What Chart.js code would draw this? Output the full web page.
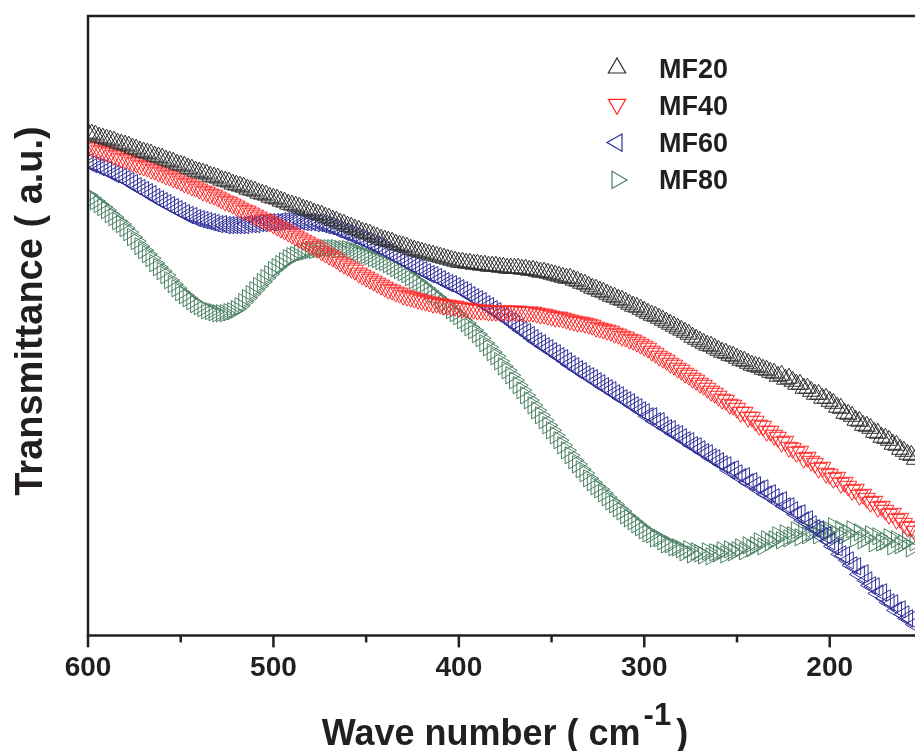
<!DOCTYPE html>
<html>
<head>
<meta charset="utf-8">
<script src="https://cdn.jsdelivr.net/npm/chart.js@4.4.0/dist/chart.umd.min.js"></script>
<style>
  html, body { margin: 0; padding: 0; background: #fff; }
  #chart { display: block; }
</style>
</head>
<body>
<canvas id="chart" width="915" height="751"></canvas>
<script>
// wave number grid (cm-1), read left to right on the reversed axis
const wavenumbers = [
    600, 598, 596, 594, 592, 590, 588, 586, 584, 582,
    580, 578, 576, 574, 572, 570, 568, 566, 564, 562,
    560, 558, 556, 554, 552, 550, 548, 546, 544, 542,
    540, 538, 536, 534, 532, 530, 528, 526, 524, 522,
    520, 518, 516, 514, 512, 510, 508, 506, 504, 502,
    500, 498, 496, 494, 492, 490, 488, 486, 484, 482,
    480, 478, 476, 474, 472, 470, 468, 466, 464, 462,
    460, 458, 456, 454, 452, 450, 448, 446, 444, 442,
    440, 438, 436, 434, 432, 430, 428, 426, 424, 422,
    420, 418, 416, 414, 412, 410, 408, 406, 404, 402,
    400, 398, 396, 394, 392, 390, 388, 386, 384, 382,
    380, 378, 376, 374, 372, 370, 368, 366, 364, 362,
    360, 358, 356, 354, 352, 350, 348, 346, 344, 342,
    340, 338, 336, 334, 332, 330, 328, 326, 324, 322,
    320, 318, 316, 314, 312, 310, 308, 306, 304, 302,
    300, 298, 296, 294, 292, 290, 288, 286, 284, 282,
    280, 278, 276, 274, 272, 270, 268, 266, 264, 262,
    260, 258, 256, 254, 252, 250, 248, 246, 244, 242,
    240, 238, 236, 234, 232, 230, 228, 226, 224, 222,
    220, 218, 216, 214, 212, 210, 208, 206, 204, 202,
    200, 198, 196, 194, 192, 190, 188, 186, 184, 182,
    180, 178, 176, 174, 172, 170, 168, 166, 164, 162,
    160, 158, 156, 154
];

// transmittance (a.u.)
const mf20 = [
    502, 501, 500, 498, 497, 496, 495, 494, 492, 491,
    490, 489, 487, 486, 484, 483, 482, 481, 479, 478,
    477, 475, 474, 473, 471, 470, 469, 467, 466, 464,
    463, 462, 461, 459, 458, 457, 455, 454, 453, 451,
    450, 449, 448, 446, 445, 444, 442, 441, 440, 438,
    437, 436, 434, 433, 431, 430, 429, 428, 426, 425,
    424, 422, 421, 420, 418, 417, 415, 414, 412, 411,
    409, 408, 406, 405, 403, 402, 401, 399, 398, 396,
    395, 394, 393, 391, 390, 389, 388, 386, 385, 384,
    383, 382, 381, 380, 379, 378, 377, 376, 375, 374,
    373, 373, 372, 372, 371, 371, 370, 370, 369, 369,
    369, 368, 368, 367, 367, 367, 367, 366, 366, 365,
    365, 364, 363, 363, 362, 361, 360, 359, 358, 357,
    357, 355, 354, 352, 351, 349, 347, 346, 344, 343,
    341, 339, 338, 336, 335, 333, 331, 329, 328, 326,
    324, 322, 320, 319, 317, 315, 313, 311, 309, 307,
    305, 303, 301, 298, 296, 294, 292, 290, 289, 287,
    285, 283, 282, 280, 279, 277, 275, 274, 272, 270,
    269, 268, 266, 265, 263, 262, 259, 260, 256, 257,
    254, 251, 251, 247, 247, 244, 241, 241, 237, 237,
    234, 232, 228, 227, 222, 221, 219, 215, 214, 210,
    209, 207, 203, 202, 198, 197, 195, 191, 190, 186,
    184, 181, 180, 176
];

const mf40 = [
    489, 488, 487, 485, 484, 483, 482, 480, 479, 477,
    476, 475, 473, 472, 470, 469, 468, 466, 465, 463,
    462, 460, 459, 457, 456, 454, 452, 451, 449, 448,
    446, 444, 443, 441, 440, 438, 436, 434, 433, 431,
    429, 427, 425, 424, 422, 420, 418, 416, 415, 413,
    411, 409, 407, 405, 403, 401, 399, 397, 395, 393,
    391, 389, 387, 384, 382, 380, 378, 376, 373, 371,
    369, 367, 365, 362, 360, 358, 356, 354, 352, 350,
    348, 346, 345, 343, 342, 340, 339, 338, 337, 336,
    335, 334, 333, 332, 332, 331, 330, 330, 329, 329,
    328, 327, 327, 326, 326, 325, 325, 325, 324, 324,
    324, 324, 324, 324, 324, 324, 324, 323, 323, 323,
    323, 322, 321, 321, 320, 319, 318, 318, 317, 316,
    315, 314, 313, 313, 312, 311, 310, 308, 307, 306,
    305, 304, 302, 301, 299, 298, 296, 295, 293, 291,
    289, 287, 284, 282, 279, 277, 275, 272, 270, 267,
    265, 262, 260, 257, 255, 252, 250, 247, 244, 242,
    239, 236, 235, 231, 230, 227, 223, 223, 218, 218,
    214, 210, 209, 204, 204, 200, 198, 193, 194, 188,
    187, 183, 184, 177, 178, 174, 172, 167, 168, 162,
    161, 157, 158, 152, 153, 149, 145, 146, 140, 141,
    137, 133, 134, 128, 129, 125, 121, 122, 116, 117,
    112, 108, 109, 104
];

const mf60 = [
    473, 471, 470, 468, 467, 465, 463, 461, 460, 458,
    456, 454, 452, 449, 447, 445, 443, 441, 438, 436,
    434, 432, 430, 428, 426, 424, 422, 420, 419, 417,
    416, 415, 414, 413, 412, 411, 411, 410, 410, 410,
    410, 410, 410, 411, 411, 411, 412, 412, 413, 413,
    413, 413, 414, 414, 414, 414, 414, 414, 413, 413,
    413, 412, 412, 411, 410, 409, 408, 406, 405, 403,
    402, 400, 399, 397, 396, 394, 392, 390, 389, 387,
    385, 383, 381, 379, 377, 375, 373, 371, 369, 367,
    365, 363, 361, 360, 358, 356, 354, 352, 351, 349,
    347, 345, 343, 340, 338, 336, 334, 331, 329, 326,
    324, 321, 319, 316, 314, 311, 308, 305, 303, 300,
    297, 294, 292, 289, 287, 284, 282, 279, 277, 274,
    271, 269, 266, 264, 261, 259, 257, 254, 252, 249,
    247, 245, 242, 240, 237, 235, 233, 230, 228, 225,
    223, 219, 219, 214, 214, 210, 207, 206, 202, 201,
    198, 195, 194, 190, 189, 186, 183, 182, 178, 177,
    174, 171, 170, 165, 166, 162, 158, 159, 153, 154,
    150, 146, 147, 141, 142, 138, 134, 135, 129, 129,
    125, 121, 122, 115, 116, 111, 107, 106, 99, 100,
    94, 89, 88, 81, 80, 75, 70, 69, 61, 62,
    55, 50, 49, 42, 43, 37, 33, 32, 25, 26,
    21, 17, 16, 11
];

const mf80 = [
    440, 437, 434, 431, 428, 425, 421, 418, 414, 411,
    407, 403, 398, 394, 389, 385, 381, 377, 372, 368,
    364, 360, 355, 351, 347, 343, 340, 337, 334, 331,
    329, 327, 325, 324, 323, 322, 322, 322, 323, 324,
    326, 329, 333, 337, 341, 345, 349, 353, 357, 361,
    365, 368, 371, 374, 377, 379, 380, 382, 383, 384,
    385, 385, 386, 386, 387, 387, 387, 387, 386, 386,
    386, 385, 384, 383, 381, 380, 379, 377, 376, 374,
    373, 371, 369, 367, 365, 363, 361, 358, 355, 353,
    350, 347, 344, 341, 338, 335, 332, 329, 325, 322,
    319, 315, 312, 308, 305, 301, 297, 292, 288, 283,
    279, 274, 269, 265, 260, 255, 250, 245, 240, 235,
    230, 225, 220, 215, 210, 205, 200, 195, 190, 185,
    180, 175, 171, 166, 162, 157, 153, 149, 146, 142,
    138, 134, 131, 127, 124, 120, 117, 114, 111, 108,
    105, 102, 101, 97, 97, 94, 91, 91, 88, 88,
    86, 83, 86, 81, 84, 82, 80, 84, 79, 83,
    82, 85, 81, 86, 83, 85, 88, 84, 90, 87,
    90, 94, 89, 96, 93, 96, 100, 95, 102, 97,
    100, 105, 98, 106, 100, 103, 108, 100, 107, 102,
    105, 109, 101, 106, 100, 102, 106, 97, 103, 95,
    97, 101, 92, 99, 93, 94, 98, 89, 96, 90,
    92, 95, 87, 93
];

const seriesNames = ['MF20', 'MF40', 'MF60', 'MF80'];
const seriesValues = [mf20, mf40, mf60, mf80];
const xTickLabels = [600, 500, 400, 300, 200];

const FONT = '"Liberation Sans", Arial, sans-serif';
const INK = '#231f20';
const COLORS = ['#2b2b2b', '#ff2626', '#2e2e98', '#4a8064'];
const ROTATIONS = [0, 180, 270, 90];

function toPoints(values) {
    return values.map((v, i) => ({ x: wavenumbers[i], y: v }));
}

function strokeTriangle(ctx, x, y, r, deg) {
    let a = deg * Math.PI / 180;
    ctx.beginPath();
    for (let k = 0; k < 3; k++) {
        ctx.lineTo(x + Math.sin(a) * r, y - Math.cos(a) * r);
        a += 2 * Math.PI / 3;
    }
    ctx.closePath();
    ctx.stroke();
}

// box frame with outward ticks (major every 100, minor every 50)
const framePlugin = {
    id: 'frame',
    afterDatasetsDraw(chart) {
        const { ctx, chartArea: a } = chart;
        const xScale = chart.scales.x;
        ctx.save();
        ctx.strokeStyle = INK;
        ctx.lineWidth = 2.5;
        ctx.lineCap = 'square';
        ctx.beginPath();
        ctx.moveTo(a.right + 2, a.top);
        ctx.lineTo(a.left, a.top);
        ctx.lineTo(a.left, a.bottom);
        ctx.lineTo(a.right + 2, a.bottom);
        ctx.stroke();

        ctx.lineCap = 'butt';
        xScale.ticks.forEach(t => {
            const px = xScale.getPixelForValue(t.value);
            const len = xTickLabels.includes(t.value) ? 12 : 7;
            ctx.beginPath();
            ctx.moveTo(px, a.bottom);
            ctx.lineTo(px, a.bottom + len);
            ctx.stroke();
        });
        ctx.restore();
    }
};

// axis titles and the inset legend
const textPlugin = {
    id: 'texts',
    afterDraw(chart) {
        const ctx = chart.ctx;
        ctx.save();
        ctx.fillStyle = INK;
        ctx.textBaseline = 'alphabetic';

        // y title
        ctx.save();
        ctx.font = `bold 38px ${FONT}`;
        ctx.textAlign = 'center';
        ctx.translate(42, 311);
        ctx.rotate(-Math.PI / 2);
        ctx.fillText('Transmittance ( a.u.)', 0, 0);
        ctx.restore();

        // x title with superscript
        const main = 'Wave number ( cm';
        const sup = '-1';
        const tail = ')';
        ctx.textAlign = 'left';
        ctx.font = `bold 36px ${FONT}`;
        const wMain = ctx.measureText(main).width;
        const wTail = ctx.measureText(tail).width;
        ctx.font = `bold 31px ${FONT}`;
        const wSup = ctx.measureText(sup).width;
        const total = wMain + 3 + wSup + 5 + wTail;
        let x = 505 - total / 2;
        ctx.font = `bold 36px ${FONT}`;
        ctx.fillText(main, x, 745);
        x += wMain + 3;
        ctx.font = `bold 31px ${FONT}`;
        ctx.fillText(sup, x, 725);
        x += wSup + 5;
        ctx.font = `bold 36px ${FONT}`;
        ctx.fillText(tail, x, 745);

        // legend
        ctx.font = `bold 27px ${FONT}`;
        ctx.lineWidth = 1.2;
        seriesNames.forEach((name, i) => {
            const rowY = 68 + i * 37.3;
            ctx.strokeStyle = COLORS[i];
            strokeTriangle(ctx, 617, rowY + (i === 1 ? -1 : 0), 10, ROTATIONS[i]);
            ctx.fillStyle = INK;
            ctx.fillText(name, 659, rowY + 9.5);
        });
        ctx.restore();
    }
};

const datasets = seriesNames.map((name, i) => ({
    label: name,
    data: toPoints(seriesValues[i]),
    pointStyle: 'triangle',
    pointRotation: ROTATIONS[i],
    pointRadius: 10,
    pointHoverRadius: 10,
    pointBorderWidth: 1,
    borderColor: COLORS[i],
    backgroundColor: 'rgba(0,0,0,0)',
    showLine: false,
    clip: 0
}));

new Chart(document.getElementById('chart'), {
    type: 'scatter',
    data: { datasets },
    options: {
        responsive: false,
        animation: false,
        devicePixelRatio: 1,
        layout: {
            autoPadding: false,
            padding: { left: 88, top: 16, right: 0, bottom: 50 }
        },
        plugins: {
            legend: { display: false },
            tooltip: { enabled: false }
        },
        scales: {
            x: {
                type: 'linear',
                reverse: true,
                min: 154,
                max: 600,
                grid: { display: false, drawTicks: false },
                border: { display: false },
                afterFit(scale) {
                    // the plot runs right up to the canvas edge, as in the source figure
                    scale.paddingLeft = 0;
                    scale.paddingRight = 0;
                },
                ticks: {
                    stepSize: 50,
                    includeBounds: false,
                    autoSkip: false,
                    maxRotation: 0,
                    padding: 16,
                    color: INK,
                    font: { family: FONT, size: 28, weight: 'bold' },
                    callback: v => (xTickLabels.includes(v) ? String(v) : '')
                }
            },
            y: {
                display: false,
                min: 0,
                max: 619
            }
        }
    },
    plugins: [framePlugin, textPlugin]
});
</script>
</body>
</html>
